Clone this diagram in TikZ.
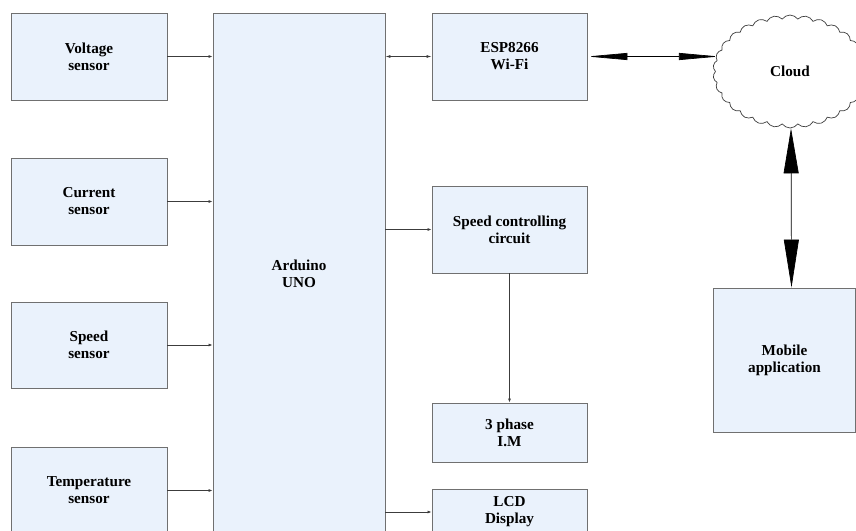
\documentclass[tikz,border=0pt]{standalone}
\usepackage{fontspec}
\setmainfont{Liberation Serif}
\usetikzlibrary{arrows.meta,shapes.symbols}
\definecolor{boxfill}{RGB}{234,242,252}
\definecolor{boxline}{RGB}{112,112,112}
\definecolor{linecol}{RGB}{60,60,60}
\begin{document}
\begin{tikzpicture}[x=1pt,y=-1pt,
  blk/.style={draw=boxline,fill=boxfill,line width=0.9pt,align=center,
    font=\fontsize{15.2}{17}\selectfont\bfseries,inner sep=0pt},
  conn/.style={draw=linecol,line width=0.7pt,-{Latex[length=4pt,width=3pt]}},
  big/.style={draw=black,line width=0.7pt}]
\useasboundingbox (0,0) rectangle (856,530);
\clip (0,0) rectangle (856,530);
\node[blk,minimum width=156pt,minimum height=87pt] (volt) at (89,56.5) {Voltage\\sensor};
\node[blk,minimum width=156pt,minimum height=87pt] (curr) at (89,201.5) {Current\\sensor};
\node[blk,minimum width=156pt,minimum height=86pt] (spd) at (89,345) {Speed\\sensor};
\node[blk,minimum width=156pt,minimum height=87pt] (temp) at (89,490.5) {Temperature\\sensor};
\node[blk,minimum width=172pt,minimum height=522pt] (ard) at (299,274) {Arduino\\UNO};
\node[blk,minimum width=155pt,minimum height=87pt] (esp) at (509.5,56.5) {ESP8266\\Wi-Fi};
\node[blk,minimum width=155pt,minimum height=87pt] (sc) at (509.5,229.5) {Speed controlling\\circuit};
\node[blk,minimum width=155pt,minimum height=59pt] (im) at (509.5,432.5) {3 phase\\I.M};
\node[blk,minimum width=155pt,minimum height=46pt] (lcd) at (509.5,512) {LCD\\Display};
\node[blk,minimum width=142pt,minimum height=144pt] (mob) at (784.5,360) {Mobile\\application};
\node[cloud,draw=linecol,fill=white,line width=0.7pt,cloud puffs=30,cloud puff arc=110,
  cloud ignores aspect,minimum width=154pt,minimum height=113pt,inner sep=0pt,
  font=\fontsize{15.2}{17}\selectfont\bfseries] (cloud) at (790,71.5) {Cloud};
% sensor inputs
\draw[conn] (volt.east) -- (volt.east -| ard.west);
\draw[conn] (curr.east) -- (curr.east -| ard.west);
\draw[conn] (spd.east) -- (spd.east -| ard.west);
\draw[conn] (temp.east) -- (temp.east -| ard.west);
% outputs
\draw[draw=linecol,line width=0.7pt,{Latex[length=5pt,width=3pt]}-{Latex[length=5pt,width=3pt]}] (esp.west -| ard.east) -- (esp.west);
\draw[conn] (sc.west -| ard.east) -- (sc.west);
\draw[conn] (lcd.west -| ard.east) -- (lcd.west);
\draw[conn] (sc.south) -- (im.north);
% big arrows
\draw[big,{Triangle[length=40pt,width=7pt]}-{Triangle[length=40pt,width=7pt]}] (esp.east) -- ([xshift=4pt]esp.east -| cloud.west);
\draw[big,{Triangle[length=45pt,width=15pt]}-{Triangle[length=48pt,width=15pt]}] ([xshift=1pt]cloud.south) -- ([xshift=7pt]mob.north);
\end{tikzpicture}
\end{document}
